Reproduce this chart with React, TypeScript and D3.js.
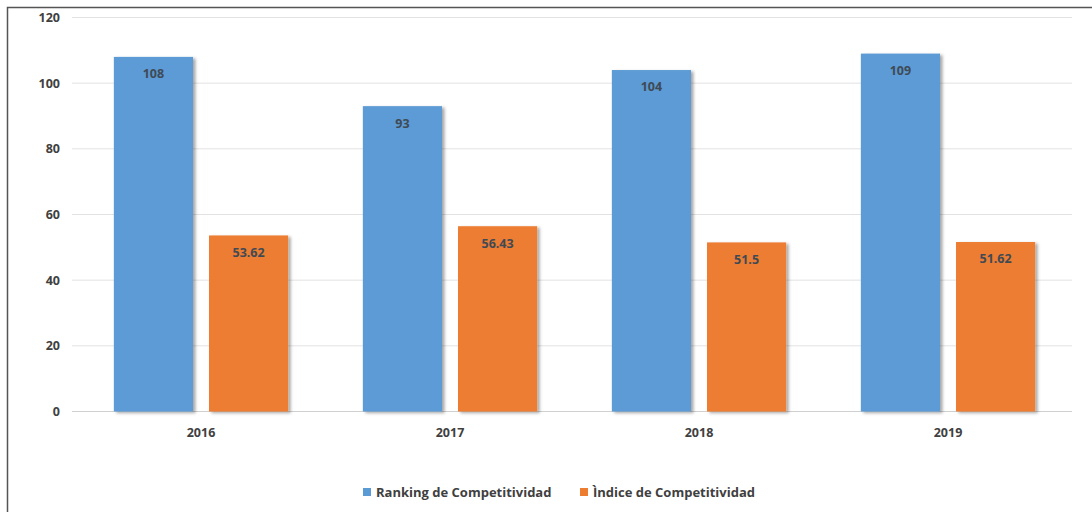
import React from "react";
import * as d3 from "d3";

const years = ["2016", "2017", "2018", "2019"];
const ranking = [108, 93, 104, 109];
const indice = [53.62, 56.43, 51.5, 51.62];
const indiceLabels = ["53.62", "56.43", "51.5", "51.62"];
const yTicks = [0, 20, 40, 60, 80, 100, 120];
const seriesNames = ["Ranking de Competitividad", "Ìndice de Competitividad"];
const colors = ["#5B9BD5", "#ED7D31"];

export default function App() {
  const W = 1092, H = 512;
  const x0 = 72, x1 = 1072;
  const yTop = 17.5, yBot = 411.5;
  const x = d3.scaleBand<string>().domain(years).range([76.5, 1072.5]).paddingInner(0.3).paddingOuter(0.15);
  const y = d3.scaleLinear().domain([0, 120]).range([yBot, yTop]);
  const bw = x.bandwidth();
  const gap = 16;
  const barW = (bw - gap) / 2;
  const font = "'Open Sans', 'DejaVu Sans', sans-serif";
  const series = [ranking, indice];
  const labels = [ranking.map(String), indiceLabels];
  return (
    <svg width={W} height={H} style={{ position: "absolute", left: 0, top: 0 }}>
      <defs>
        <filter id="sh" x="-10%" y="-10%" width="130%" height="130%">
          <feDropShadow dx="2.5" dy="1.5" stdDeviation="1.5" floodColor="#000" floodOpacity="0.35" />
        </filter>
      </defs>
      <rect x={0} y={0} width={W} height={H} fill="#fff" />
      <rect x={7.5} y={7.5} width={W + 10} height={H + 10} fill="none" stroke="#555" strokeWidth={1.5} />
      {yTicks.map((t) => (
        <g key={t}>
          <line x1={x0} x2={x1} y1={y(t)} y2={y(t)} stroke={t === 0 ? "#d0d0d0" : "#e2e2e2"} strokeWidth={1} />
          <text x={60} y={y(t)} dy="0.35em" textAnchor="end" fontFamily={font} fontWeight={700} fontSize={12.5} fill="#404040">
            {t}
          </text>
        </g>
      ))}
      {years.map((yr, i) => (
        <g key={yr}>
          {series.map((s, k) => {
            const bx = (x(yr) as number) + k * (barW + gap);
            return (
              <g key={k}>
                <rect x={bx} y={y(s[i])} width={barW} height={yBot - y(s[i])} fill={colors[k]} filter="url(#sh)" />
                <text x={bx + barW / 2} y={y(s[i]) + 17} dy="0.35em" textAnchor="middle" fontFamily={font} fontWeight={700} fontSize={12.5} fill="#3f4a55">
                  {labels[k][i]}
                </text>
              </g>
            );
          })}
          <text x={(x(yr) as number) + bw / 2} y={433} dy="0.35em" textAnchor="middle" fontFamily={font} fontWeight={700} fontSize={12.5} fill="#404040">
            {yr}
          </text>
        </g>
      ))}
      {seriesNames.map((n, k) => {
        const lx = k === 0 ? 363 : 580;
        return (
          <g key={n}>
            <rect x={lx} y={488} width={8} height={8} fill={colors[k]} />
            <text x={lx + 13} y={492} dy="0.35em" fontFamily={font} fontWeight={700} fontSize={13} fill="#404040">
              {n}
            </text>
          </g>
        );
      })}
    </svg>
  );
}
